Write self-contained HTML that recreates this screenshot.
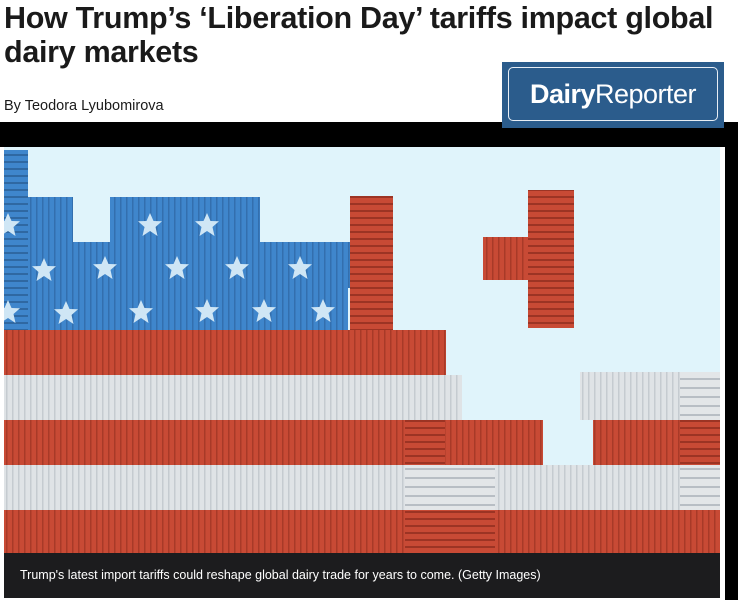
<!DOCTYPE html>
<html><head><meta charset="utf-8"><style>
html,body{margin:0;padding:0;background:#fff;width:738px;height:600px;overflow:hidden;font-family:"Liberation Sans",sans-serif;position:relative}
.abs{position:absolute}
</style></head><body>
<div class="abs" style="left:4px;top:1px;font-size:30.5px;font-weight:bold;color:#1a1a1a;line-height:34px;letter-spacing:-0.3px;width:734px;white-space:nowrap">How Trump’s ‘Liberation Day’ tariffs impact global<br>dairy markets</div>
<div class="abs" style="left:4px;top:98px;font-size:14.5px;color:#1a1a1a">By Teodora Lyubomirova</div>
<div class="abs" style="left:0;top:122px;width:738px;height:25px;background:#000"></div>
<div class="abs" style="left:725px;top:122px;width:13px;height:478px;background:#000"></div>
<div class="abs" style="left:502px;top:62px;width:222px;height:66px;background:#2b5c8c">
  <div style="position:absolute;left:6px;top:5px;right:6px;bottom:7px;border:1.5px solid #e8eef5;border-radius:5px;color:#fff;font-size:27px;text-align:center;line-height:52px;letter-spacing:-0.5px"><b>Dairy</b>Reporter</div>
</div>
<svg class="abs" style="left:4px;top:147px" width="716" height="406" viewBox="4 147 716 406">
<defs>
<pattern id="rv" width="6" height="10" patternUnits="userSpaceOnUse"><rect width="6" height="10" fill="#c84a35"/><rect width="1.5" height="10" fill="#a83a28"/></pattern>
<pattern id="rh" width="10" height="7" patternUnits="userSpaceOnUse"><rect width="10" height="7" fill="#c84a35"/><rect width="10" height="2" fill="#9c3424"/></pattern>
<pattern id="bv" width="6" height="10" patternUnits="userSpaceOnUse"><rect width="6" height="10" fill="#3f86cc"/><rect width="1.5" height="10" fill="#336fae"/></pattern>
<pattern id="bh" width="10" height="7" patternUnits="userSpaceOnUse"><rect width="10" height="7" fill="#3f86cc"/><rect width="10" height="2" fill="#2f68a2"/></pattern>
<pattern id="wv" width="6" height="10" patternUnits="userSpaceOnUse"><rect width="6" height="10" fill="#dfe3e6"/><rect width="1.5" height="10" fill="#c5cbd0"/></pattern>
<pattern id="wh" width="10" height="9" patternUnits="userSpaceOnUse"><rect width="10" height="9" fill="#e3e6e8"/><rect width="10" height="2" fill="#b8bec4"/></pattern>
<polygon id="st" points="0,-12 3.5,-4 12,-3.7 5.5,2 7.5,11 0,6 -7.5,11 -5.5,2 -12,-3.7 -3.5,-4" fill="#cfe6f5"/>
</defs>
<rect x="4" y="147" width="716" height="406" fill="#e0f4fb"/>
<rect x="4" y="150" width="24" height="180" fill="url(#bh)"/>
<rect x="28" y="197" width="45" height="45" fill="url(#bv)"/>
<rect x="110" y="197" width="150" height="45" fill="url(#bv)"/>
<rect x="28" y="242" width="322" height="46" fill="url(#bv)"/>
<rect x="28" y="288" width="320" height="42" fill="url(#bv)"/>
<g>
<use href="#st" x="150" y="225"/><use href="#st" x="207" y="225"/>
<use href="#st" x="44" y="270"/><use href="#st" x="105" y="268"/><use href="#st" x="177" y="268"/><use href="#st" x="237" y="268"/><use href="#st" x="300" y="268"/>
<use href="#st" x="8" y="225"/><use href="#st" x="8" y="312"/>
<use href="#st" x="66" y="313"/><use href="#st" x="141" y="312"/><use href="#st" x="207" y="311"/><use href="#st" x="264" y="311"/><use href="#st" x="323" y="311"/>
</g>
<rect x="350" y="196" width="43" height="134" fill="url(#rh)"/>
<rect x="483" y="237" width="47" height="43" fill="url(#rv)"/>
<rect x="528" y="190" width="46" height="138" fill="url(#rh)"/>
<rect x="4" y="330" width="442" height="45" fill="url(#rv)"/>
<rect x="4" y="375" width="458" height="45" fill="url(#wv)"/>
<rect x="580" y="372" width="140" height="48" fill="url(#wv)"/>
<rect x="4" y="420" width="539" height="45" fill="url(#rv)"/>
<rect x="593" y="420" width="127" height="45" fill="url(#rv)"/>
<rect x="4" y="465" width="716" height="45" fill="url(#wv)"/>
<rect x="4" y="510" width="716" height="43" fill="url(#rv)"/>
<rect x="405" y="420" width="40" height="45" fill="url(#rh)"/>
<rect x="405" y="465" width="90" height="45" fill="url(#wh)"/>
<rect x="405" y="510" width="90" height="43" fill="url(#rh)"/>
<rect x="680" y="372" width="40" height="48" fill="url(#wh)"/>
<rect x="680" y="420" width="40" height="45" fill="url(#rh)"/>
<rect x="680" y="465" width="40" height="45" fill="url(#wh)"/>
</svg>
<div class="abs" style="left:4px;top:553px;width:716px;height:45px;background:#1c1c1e;color:#fff;font-size:12.5px;line-height:45px;padding-left:16px;box-sizing:border-box">Trump's latest import tariffs could reshape global dairy trade for years to come. (Getty Images)</div>
</body></html>
